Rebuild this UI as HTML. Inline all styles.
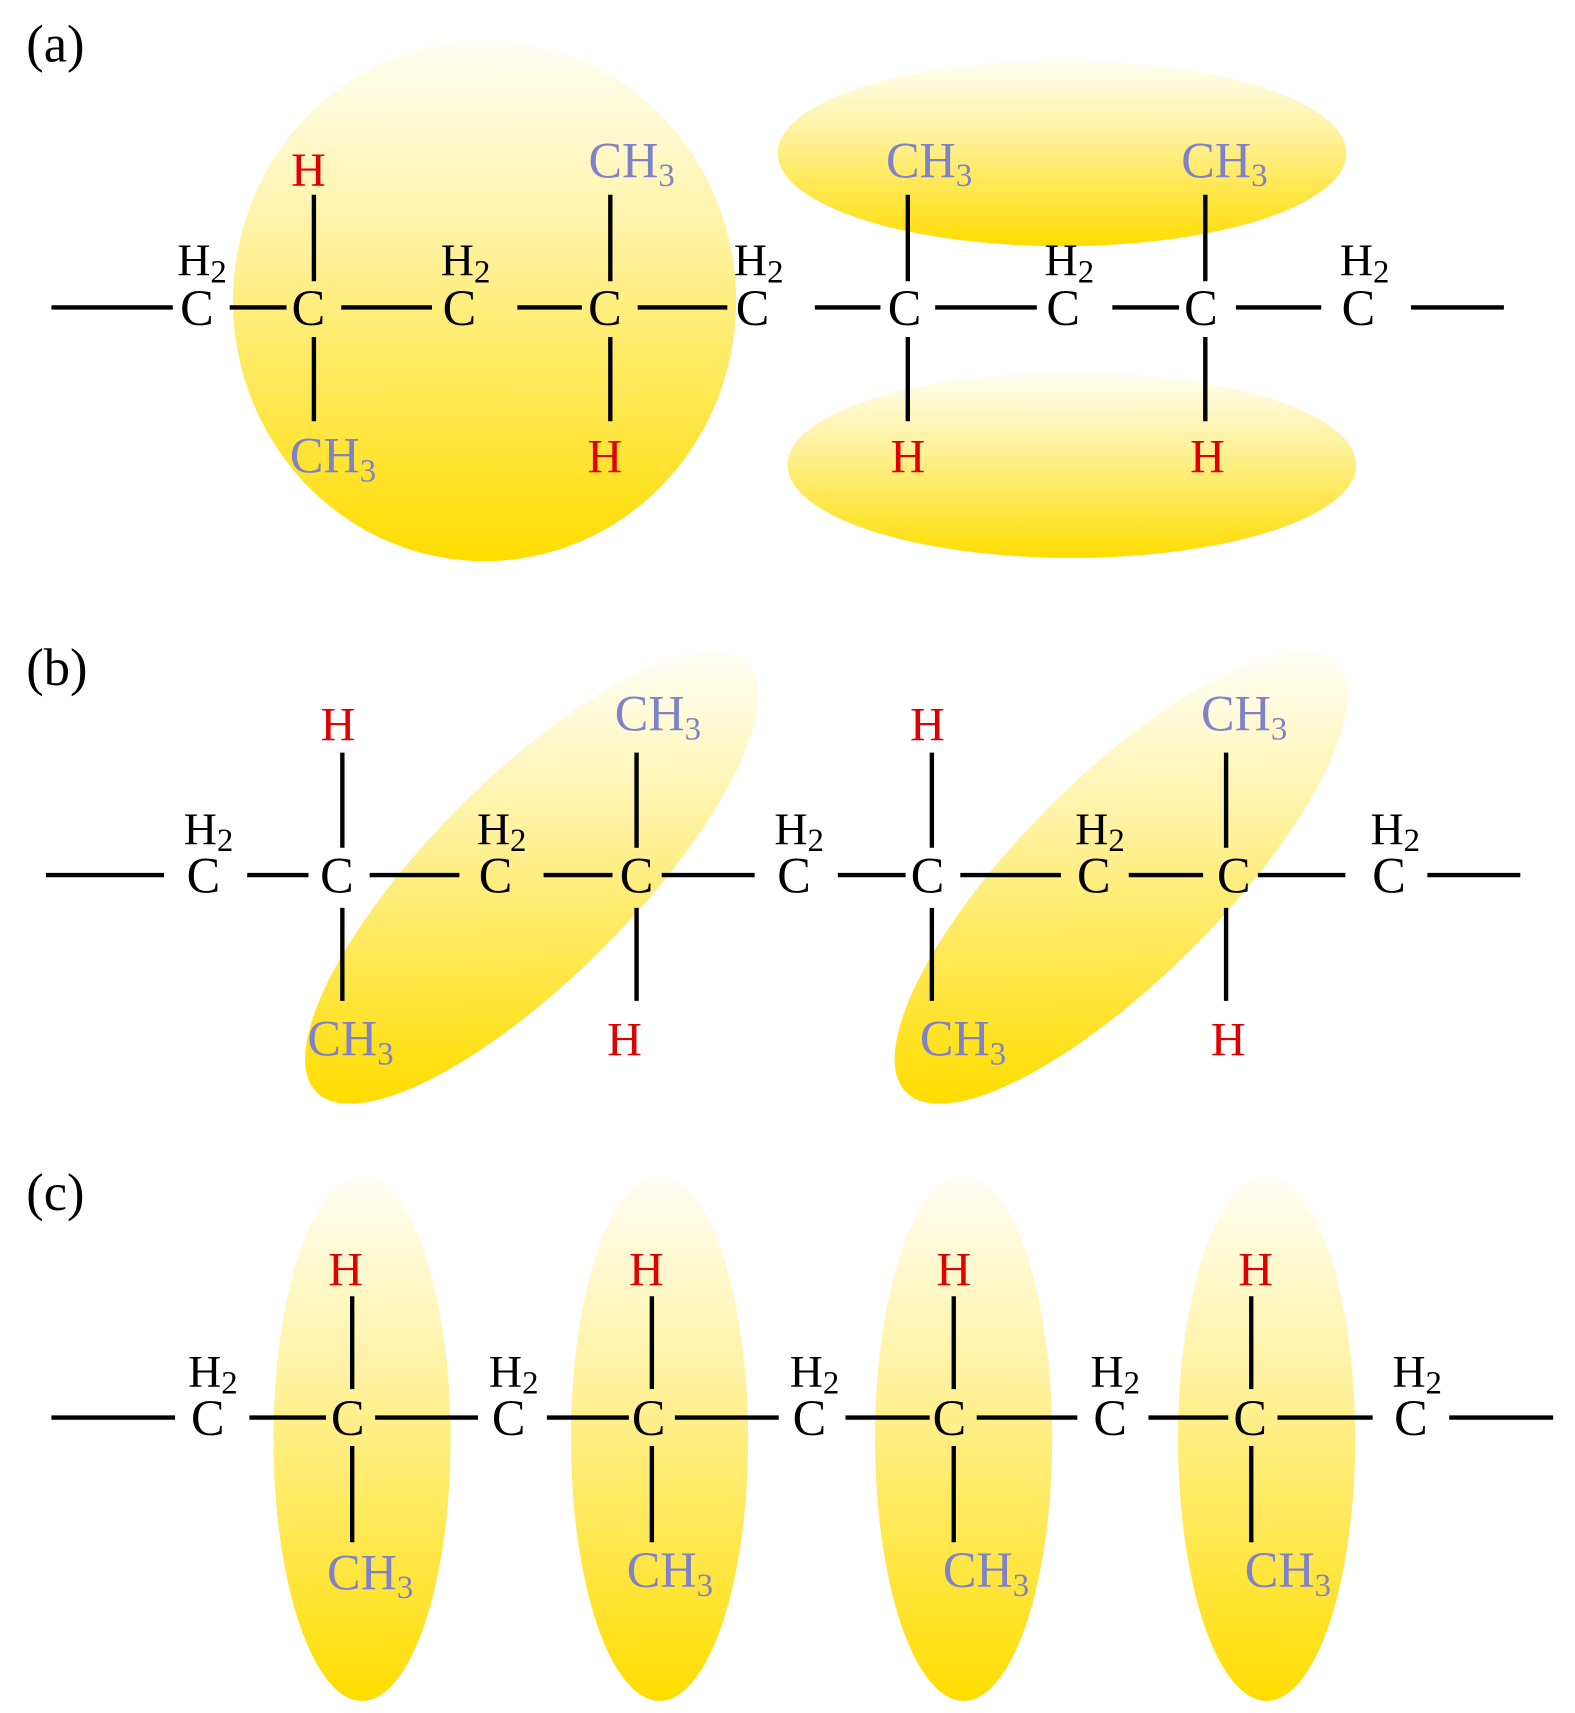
<!DOCTYPE html>
<html><head><meta charset="utf-8"><style>
html,body{margin:0;padding:0;background:#fff;}
svg{display:block;}
text{font-family:"Liberation Serif",serif;}
.c{font-size:46px;fill:#000;text-anchor:middle;}
.h{font-size:44px;fill:#e00000;text-anchor:middle;}
.m{font-size:46px;fill:#7f82c8;}
.l{font-size:42px;fill:#000;}
.p{font-size:48px;fill:#000;}
.s{font-size:30px;}
line{stroke:#000;stroke-width:4;}
</style></head><body>
<svg width="1575" height="1713" viewBox="0 0 1440 1566" xmlns="http://www.w3.org/2000/svg">
<defs>
<linearGradient id="gv" x1="0" y1="0" x2="0" y2="1">
<stop offset="0" stop-color="#fffef5"/><stop offset="0.35" stop-color="#fff3a8"/><stop offset="1" stop-color="#ffdd00"/>
</linearGradient>
<linearGradient id="gr" gradientUnits="userSpaceOnUse" x1="139" y1="-144" x2="-139" y2="144">
<stop offset="0" stop-color="#fffef5"/><stop offset="0.35" stop-color="#fff3a8"/><stop offset="1" stop-color="#ffdd00"/>
</linearGradient>
</defs>

<!-- (a) -->
<text class="p" x="24" y="56">(a)</text>
<ellipse cx="443" cy="275" rx="230" ry="238" fill="url(#gv)"/>
<ellipse cx="971" cy="140" rx="260" ry="85" fill="url(#gv)"/>
<ellipse cx="980" cy="425" rx="260" ry="85" fill="url(#gv)"/>
<g>
<line x1="47" y1="281" x2="158" y2="281"/><line x1="210" y1="281" x2="262" y2="281"/>
<line x1="312" y1="281" x2="395" y2="281"/><line x1="473" y1="281" x2="532" y2="281"/>
<line x1="583" y1="281" x2="665" y2="281"/><line x1="745" y1="281" x2="805" y2="281"/>
<line x1="855" y1="281" x2="948" y2="281"/><line x1="1017" y1="281" x2="1078" y2="281"/>
<line x1="1130" y1="281" x2="1208" y2="281"/><line x1="1290" y1="281" x2="1375" y2="281"/>
<line x1="287" y1="178" x2="287" y2="257"/><line x1="287" y1="308" x2="287" y2="385"/>
<line x1="558" y1="178" x2="558" y2="257"/><line x1="558" y1="308" x2="558" y2="385"/>
<line x1="830" y1="178" x2="830" y2="257"/><line x1="830" y1="308" x2="830" y2="385"/>
<line x1="1102" y1="178" x2="1102" y2="257"/><line x1="1102" y1="308" x2="1102" y2="385"/>
</g>
<text class="c" x="180" y="297">C</text><text class="c" x="282" y="297">C</text><text class="c" x="420" y="297">C</text>
<text class="c" x="553" y="297">C</text><text class="c" x="688" y="297">C</text><text class="c" x="827" y="297">C</text>
<text class="c" x="972" y="297">C</text><text class="c" x="1098" y="297">C</text><text class="c" x="1242" y="297">C</text>
<text class="l" x="162" y="252">H<tspan class="s" dy="6">2</tspan></text>
<text class="l" x="403" y="252">H<tspan class="s" dy="6">2</tspan></text>
<text class="l" x="671" y="252">H<tspan class="s" dy="6">2</tspan></text>
<text class="l" x="955" y="252">H<tspan class="s" dy="6">2</tspan></text>
<text class="l" x="1225" y="252">H<tspan class="s" dy="6">2</tspan></text>
<text class="h" x="282" y="170">H</text>
<text class="m" x="265" y="432">CH<tspan class="s" dy="8">3</tspan></text>
<text class="m" x="538" y="162">CH<tspan class="s" dy="8">3</tspan></text>
<text class="h" x="553" y="432">H</text>
<text class="m" x="810" y="162">CH<tspan class="s" dy="8">3</tspan></text>
<text class="h" x="830" y="432">H</text>
<text class="m" x="1080" y="162">CH<tspan class="s" dy="8">3</tspan></text>
<text class="h" x="1104" y="432">H</text>

<!-- (b) -->
<text class="p" x="24" y="626">(b)</text>
<ellipse transform="translate(486,802) rotate(-45)" cx="0" cy="0" rx="278" ry="92" fill="url(#gr)"/>
<ellipse transform="translate(1025,802) rotate(-45)" cx="0" cy="0" rx="278" ry="92" fill="url(#gr)"/>
<g>
<line x1="42" y1="800" x2="150" y2="800"/><line x1="226" y1="800" x2="282" y2="800"/>
<line x1="338" y1="800" x2="420" y2="800"/><line x1="497" y1="800" x2="560" y2="800"/>
<line x1="605" y1="800" x2="690" y2="800"/><line x1="766" y1="800" x2="828" y2="800"/>
<line x1="878" y1="800" x2="970" y2="800"/><line x1="1032" y1="800" x2="1100" y2="800"/>
<line x1="1150" y1="800" x2="1230" y2="800"/><line x1="1305" y1="800" x2="1390" y2="800"/>
<line x1="313" y1="688" x2="313" y2="775"/><line x1="313" y1="830" x2="313" y2="915"/>
<line x1="582" y1="688" x2="582" y2="775"/><line x1="582" y1="830" x2="582" y2="915"/>
<line x1="852" y1="688" x2="852" y2="775"/><line x1="852" y1="830" x2="852" y2="915"/>
<line x1="1121" y1="688" x2="1121" y2="775"/><line x1="1121" y1="830" x2="1121" y2="915"/>
</g>
<text class="c" x="186" y="816">C</text><text class="c" x="308" y="816">C</text><text class="c" x="453" y="816">C</text>
<text class="c" x="582" y="816">C</text><text class="c" x="726" y="816">C</text><text class="c" x="848" y="816">C</text>
<text class="c" x="1000" y="816">C</text><text class="c" x="1128" y="816">C</text><text class="c" x="1270" y="816">C</text>
<text class="l" x="168" y="772">H<tspan class="s" dy="6">2</tspan></text>
<text class="l" x="436" y="772">H<tspan class="s" dy="6">2</tspan></text>
<text class="l" x="708" y="772">H<tspan class="s" dy="6">2</tspan></text>
<text class="l" x="983" y="772">H<tspan class="s" dy="6">2</tspan></text>
<text class="l" x="1253" y="772">H<tspan class="s" dy="6">2</tspan></text>
<text class="h" x="309" y="677">H</text>
<text class="m" x="281" y="965">CH<tspan class="s" dy="8">3</tspan></text>
<text class="m" x="562" y="668">CH<tspan class="s" dy="8">3</tspan></text>
<text class="h" x="571" y="965">H</text>
<text class="h" x="848" y="677">H</text>
<text class="m" x="841" y="965">CH<tspan class="s" dy="8">3</tspan></text>
<text class="m" x="1098" y="668">CH<tspan class="s" dy="8">3</tspan></text>
<text class="h" x="1123" y="965">H</text>

<!-- (c) -->
<text class="p" x="24" y="1106">(c)</text>
<ellipse cx="331" cy="1315" rx="81" ry="240" fill="url(#gv)"/>
<ellipse cx="603" cy="1315" rx="81" ry="240" fill="url(#gv)"/>
<ellipse cx="881" cy="1315" rx="81" ry="240" fill="url(#gv)"/>
<ellipse cx="1158" cy="1315" rx="81" ry="240" fill="url(#gv)"/>
<g>
<line x1="47" y1="1296" x2="160" y2="1296"/><line x1="228" y1="1296" x2="298" y2="1296"/>
<line x1="343" y1="1296" x2="437" y2="1296"/><line x1="500" y1="1296" x2="575" y2="1296"/>
<line x1="617" y1="1296" x2="712" y2="1296"/><line x1="773" y1="1296" x2="850" y2="1296"/>
<line x1="893" y1="1296" x2="985" y2="1296"/><line x1="1050" y1="1296" x2="1123" y2="1296"/>
<line x1="1168" y1="1296" x2="1255" y2="1296"/><line x1="1325" y1="1296" x2="1420" y2="1296"/>
<line x1="322" y1="1185" x2="322" y2="1270"/><line x1="322" y1="1322" x2="322" y2="1410"/>
<line x1="596" y1="1185" x2="596" y2="1270"/><line x1="596" y1="1322" x2="596" y2="1410"/>
<line x1="872" y1="1185" x2="872" y2="1270"/><line x1="872" y1="1322" x2="872" y2="1410"/>
<line x1="1144" y1="1185" x2="1144" y2="1270"/><line x1="1144" y1="1322" x2="1144" y2="1410"/>
</g>
<text class="c" x="190" y="1312">C</text><text class="c" x="318" y="1312">C</text><text class="c" x="465" y="1312">C</text>
<text class="c" x="593" y="1312">C</text><text class="c" x="740" y="1312">C</text><text class="c" x="868" y="1312">C</text>
<text class="c" x="1015" y="1312">C</text><text class="c" x="1143" y="1312">C</text><text class="c" x="1290" y="1312">C</text>
<text class="l" x="172" y="1268">H<tspan class="s" dy="6">2</tspan></text>
<text class="l" x="447" y="1268">H<tspan class="s" dy="6">2</tspan></text>
<text class="l" x="722" y="1268">H<tspan class="s" dy="6">2</tspan></text>
<text class="l" x="997" y="1268">H<tspan class="s" dy="6">2</tspan></text>
<text class="l" x="1273" y="1268">H<tspan class="s" dy="6">2</tspan></text>
<text class="h" x="316" y="1175">H</text>
<text class="h" x="591" y="1175">H</text>
<text class="h" x="872" y="1175">H</text>
<text class="h" x="1148" y="1175">H</text>
<text class="m" x="299" y="1453">CH<tspan class="s" dy="8">3</tspan></text>
<text class="m" x="573" y="1451">CH<tspan class="s" dy="8">3</tspan></text>
<text class="m" x="862" y="1451">CH<tspan class="s" dy="8">3</tspan></text>
<text class="m" x="1138" y="1451">CH<tspan class="s" dy="8">3</tspan></text>
</svg>
</body></html>
